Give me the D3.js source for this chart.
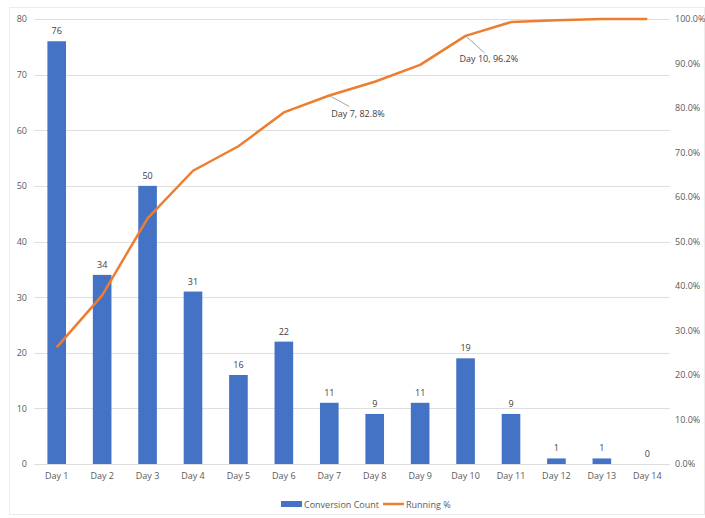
<!DOCTYPE html>
<html>
<head>
<meta charset="utf-8">
<script src="https://cdn.jsdelivr.net/npm/d3@7"></script>
<style>
  body { margin: 0; background: #fff; }
  text { font-family: "Open Sans", "Noto Sans", sans-serif; }
</style>
</head>
<body>
<svg width="705" height="518"></svg>
<script>
var days = ['Day 1', 'Day 2', 'Day 3', 'Day 4', 'Day 5', 'Day 6', 'Day 7',
  'Day 8', 'Day 9', 'Day 10', 'Day 11', 'Day 12', 'Day 13', 'Day 14'];
var counts = [76, 34, 50, 31, 16, 22, 11, 9, 11, 19, 9, 1, 1, 0];
var runningPct = [26.2, 37.9, 55.2, 65.9, 71.4, 79.0, 82.8, 85.9, 89.7, 96.2, 99.3, 99.7, 100, 100];
var countTicks = [0, 10, 20, 30, 40, 50, 60, 70, 80];
var pctTicks = [0, 10, 20, 30, 40, 50, 60, 70, 80, 90, 100];
var callouts = [6, 9]; // indexes of labelled points

var svg = d3.select('svg'),
  width = +svg.attr('width'),
  height = +svg.attr('height');

var margin = { top: 19, right: 35, bottom: 54, left: 34 };
var w = width - margin.left - margin.right,
  h = height - margin.top - margin.bottom;

// faint chart border
svg.append('rect')
  .attr('x', 9.5).attr('y', 7.5)
  .attr('width', width - 10).attr('height', height - 11)
  .attr('fill', 'none').attr('stroke', '#ececec');

var g = svg.append('g')
  .attr('transform', 'translate(' + margin.left + ',' + margin.top + ')');

var x = d3.scaleBand().domain(days).range([0, w]).paddingInner(0.59).paddingOuter(0.295);
var y = d3.scaleLinear().domain([0, 80]).range([h, 0]);
var y2 = d3.scaleLinear().domain([0, 100]).range([h, 0]);

// gridlines
g.selectAll('.grid')
  .data(countTicks)
  .enter()
  .append('line')
  .attr('x1', 0).attr('x2', w)
  .attr('y1', function(d) { return Math.round(y(d)) + 0.5; })
  .attr('y2', function(d) { return Math.round(y(d)) + 0.5; })
  .attr('stroke', '#dedede').attr('stroke-width', 1);

// left axis
var leftAxis = g.append('g')
  .call(d3.axisLeft(y).tickValues(countTicks).tickSize(0).tickPadding(7));
leftAxis.select('.domain').remove();
leftAxis.selectAll('text').attr('fill', '#595959').attr('font-size', 9);

// right axis
var rightAxis = g.append('g')
  .attr('transform', 'translate(' + w + ',0)')
  .call(d3.axisRight(y2).tickValues(pctTicks).tickSize(0).tickPadding(5)
    .tickFormat(function(d) { return d.toFixed(1) + '%'; }));
rightAxis.select('.domain').remove();
rightAxis.selectAll('text').attr('fill', '#595959').attr('font-size', 9);

// bottom axis
var bottomAxis = g.append('g')
  .attr('transform', 'translate(0,' + h + ')')
  .call(d3.axisBottom(x).tickSize(0).tickPadding(9));
bottomAxis.select('.domain').remove();
bottomAxis.selectAll('text').attr('fill', '#595959').attr('font-size', 9);

// bars
g.selectAll('.bar')
  .data(counts)
  .enter()
  .append('rect')
  .attr('x', function(d, i) { return x(days[i]); })
  .attr('y', function(d) { return y(d); })
  .attr('width', x.bandwidth())
  .attr('height', function(d) { return h - y(d); })
  .attr('fill', '#4472c4');

// bar labels
g.selectAll('.lbl')
  .data(counts)
  .enter()
  .append('text')
  .attr('x', function(d, i) { return x(days[i]) + x.bandwidth() / 2; })
  .attr('y', function(d) { return y(d) - 7; })
  .attr('text-anchor', 'middle')
  .attr('font-size', 9)
  .attr('fill', '#404040')
  .text(function(d) { return d; });

// running % line
var line = d3.line()
  .x(function(d, i) { return x(days[i]) + x.bandwidth() / 2; })
  .y(function(d) { return y2(d); });

g.append('path')
  .datum(runningPct)
  .attr('d', line)
  .attr('fill', 'none')
  .attr('stroke', '#ed7d31')
  .attr('stroke-width', 2.5)
  .attr('stroke-linejoin', 'round');

// callouts (label offsets differ a little, like the original)
var calloutOffsets = [[2, 21, 20, 11], [-6, 26, 19, 17]];
callouts.forEach(function(i, k) {
  var px = x(days[i]) + x.bandwidth() / 2,
    py = y2(runningPct[i]),
    o = calloutOffsets[k];
  g.append('line')
    .attr('x1', px).attr('y1', py)
    .attr('x2', px + o[2]).attr('y2', py + o[3])
    .attr('stroke', '#a6a6a6').attr('stroke-width', 1);
  g.append('text')
    .attr('x', px + o[0]).attr('y', py + o[1])
    .attr('font-size', 9)
    .attr('fill', '#404040')
    .text(days[i] + ', ' + runningPct[i].toFixed(1) + '%');
});

// legend
var legend = svg.append('g').attr('transform', 'translate(281,504)');
legend.append('rect')
  .attr('x', 0).attr('y', -3).attr('width', 21).attr('height', 6)
  .attr('fill', '#4472c4');
legend.append('text')
  .attr('x', 23).attr('y', 3.5)
  .attr('font-size', 9).attr('fill', '#595959')
  .text('Conversion Count');
legend.append('line')
  .attr('x1', 102).attr('x2', 123).attr('y1', 0).attr('y2', 0)
  .attr('stroke', '#ed7d31').attr('stroke-width', 2.5);
legend.append('text')
  .attr('x', 125).attr('y', 3.5)
  .attr('font-size', 9).attr('fill', '#595959')
  .text('Running %');
</script>
</body>
</html>
